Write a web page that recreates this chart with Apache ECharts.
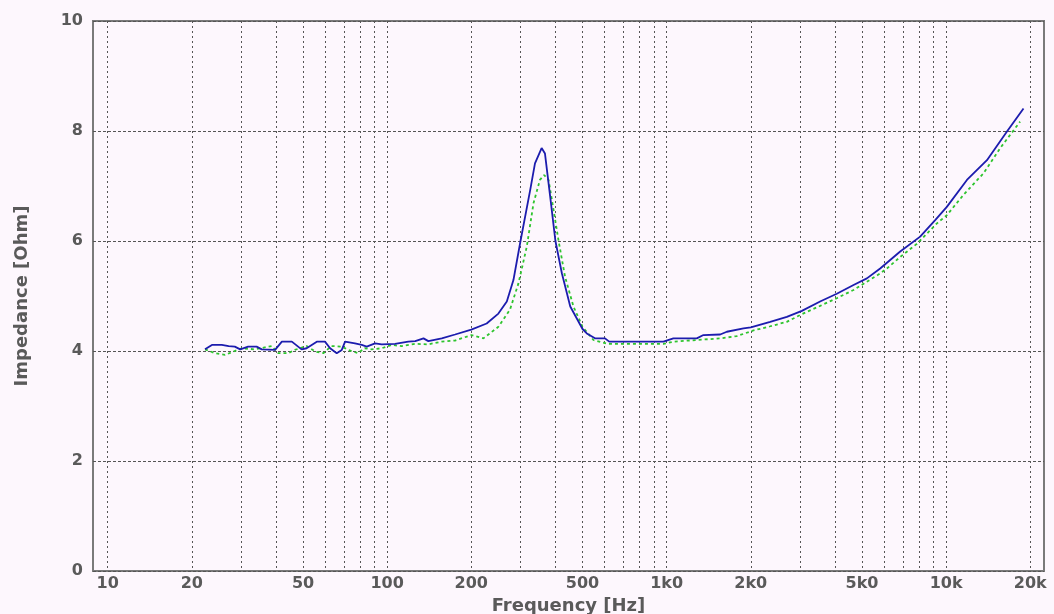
<!DOCTYPE html>
<html>
<head>
<meta charset="utf-8">
<script src="https://cdn.jsdelivr.net/npm/echarts@6/dist/echarts.min.js"></script>
<style>
html,body{margin:0;padding:0;background:#fdf7fd;}
#c{width:1054px;height:614px;}
</style>
</head>
<body>
<div id="c"></div>
<script>
// Frequency axis tick (gridline) positions, Hz
const gridFreqs = [10,20,30,40,50,60,70,80,90,100,200,300,400,500,600,700,800,900,1000,2000,3000,4000,5000,6000,7000,8000,9000,10000,20000];
// Frequency axis labelled positions and texts
const labelFreqs = [10,20,50,100,200,500,1000,2000,5000,10000,20000];
const labelTexts = ['10','20','50','100','200','500','1k0','2k0','5k0','10k','20k'];
// Impedance tick labels
const yTicks = [0,2,4,6,8,10];

// Blue (solid) curve
const blueFreq = [22.3,23.6,25.6,27.1,28.5,29.8,31.8,34.1,35.6,39.7,42.0,45.6,49.4,51.5,56.0,59.9,62.5,66.0,68.8,70.7,76.7,81.1,84.5,90.5,95.6,106.7,119,126,134.9,140.4,156.8,175,200,227,250,268,283,300,325,338,357,367,383,400,422,452,500,518,554,602,623,974,1057,1282,1354,1554,1642,1884,2000,2347,2692,3047,3541,4062,4664,5206,5808,6850,8075,9138,10060,11870,14000,16510,18920];
const blueZ = [4.03,4.11,4.11,4.09,4.08,4.03,4.08,4.08,4.03,4.02,4.17,4.17,4.03,4.05,4.17,4.17,4.05,3.96,4.02,4.17,4.14,4.11,4.08,4.14,4.12,4.13,4.17,4.18,4.23,4.18,4.23,4.30,4.39,4.50,4.68,4.90,5.29,6.00,6.93,7.41,7.69,7.59,6.81,6.00,5.41,4.81,4.40,4.32,4.23,4.23,4.17,4.17,4.23,4.23,4.29,4.30,4.35,4.41,4.43,4.53,4.62,4.73,4.90,5.04,5.20,5.32,5.50,5.81,6.08,6.38,6.62,7.11,7.47,7.99,8.41];

// Green (dashed) curve
const greenFreq = [22.3,24.2,26.3,28.2,30.2,33.6,38.6,40.8,44.3,46.7,51.5,55.3,59.1,63.2,68.8,72.6,78.6,83.1,88,95.6,103.6,112.7,126,140,156.8,175,200,221,250,275,295,316,334,352,364.5,378,394,410,433,464,500,547,616,974,1057,1282,1554,1782,2034,2347,2692,3047,3541,4062,4664,5206,5808,6138,6850,7864,9270,10060,11545,13600,15620,18400];
const greenZ = [4.03,3.96,3.93,3.99,4.05,4.03,4.09,3.96,3.96,4.02,4.09,3.99,3.96,4.09,4.08,4.02,3.96,4.05,4.03,4.05,4.11,4.09,4.13,4.12,4.17,4.19,4.29,4.23,4.44,4.75,5.23,5.90,6.69,7.11,7.20,7.11,6.56,6.02,5.35,4.81,4.44,4.20,4.13,4.13,4.17,4.20,4.23,4.27,4.37,4.45,4.53,4.67,4.82,4.96,5.11,5.26,5.41,5.50,5.71,5.95,6.32,6.47,6.84,7.23,7.69,8.17];

const fMin = 8.86, fMax = 22400;
const txt = '#5a5a5a';
const fontFam = '"DejaVu Sans", Verdana, sans-serif';

function pairs(xs, ys){ return xs.map((x,i)=>[x, ys[i]]); }
const labelMap = {};
labelFreqs.forEach((f,i)=>{ labelMap[f] = labelTexts[i]; });

const chart = echarts.init(document.getElementById('c'), null, {renderer:'canvas'});
chart.setOption({
  backgroundColor: '#fdf7fd',
  animation: false,
  grid: {left: 93, right: 10, top: 21, bottom: 43, outerBoundsMode: 'none', containLabel: false,
         show: true, borderColor: '#7a7a7a', borderWidth: 2, backgroundColor: 'transparent'},
  xAxis: [
    {
      type: 'log', min: fMin, max: fMax, logBase: 10,
      axisLine: {show: false}, axisTick: {show: false}, axisLabel: {show: false}, splitLine: {show: false}
    },
    {
      type: 'value', position: 'bottom',
      min: Math.log10(fMin), max: Math.log10(fMax),
      name: 'Frequency [Hz]', nameLocation: 'middle', nameGap: 25,
      nameTextStyle: {color: txt, fontFamily: fontFam, fontWeight: 'bold', fontSize: 18},
      axisLine: {show: false},
      axisTick: {show: false, customValues: gridFreqs.map(f=>Math.log10(f))},
      axisLabel: {
        customValues: labelFreqs.map(f=>Math.log10(f)),
        formatter: v => labelMap[Math.round(Math.pow(10, v))] || '',
        color: txt, fontFamily: fontFam, fontWeight: 'bold', fontSize: 16, margin: 5
      },
      splitLine: {show: true, lineStyle: {color: '#555', type: [2,3], width: 1}}
    }
  ],
  yAxis: {
    type: 'value', min: yTicks[0], max: yTicks[yTicks.length-1], interval: 2,
    name: 'Impedance [Ohm]', nameLocation: 'middle', nameGap: 62, nameRotate: 90,
    nameTextStyle: {color: txt, fontFamily: fontFam, fontWeight: 'bold', fontSize: 18},
    axisLine: {show: false}, axisTick: {show: false},
    axisLabel: {color: txt, fontFamily: fontFam, fontWeight: 'bold', fontSize: 16, margin: 10},
    splitLine: {show: true, lineStyle: {color: '#555', type: [3,2], width: 1}}
  },
  series: [
    {
      type: 'line', xAxisIndex: 0, data: pairs(greenFreq, greenZ), showSymbol: false,
      lineStyle: {color: '#2ec42e', width: 1.8, type: [3,3]}, z: 2
    },
    {
      type: 'line', xAxisIndex: 0, data: pairs(blueFreq, blueZ), showSymbol: false,
      lineStyle: {color: '#1c1cae', width: 1.8}, z: 3
    }
  ]
});
</script>
</body>
</html>
